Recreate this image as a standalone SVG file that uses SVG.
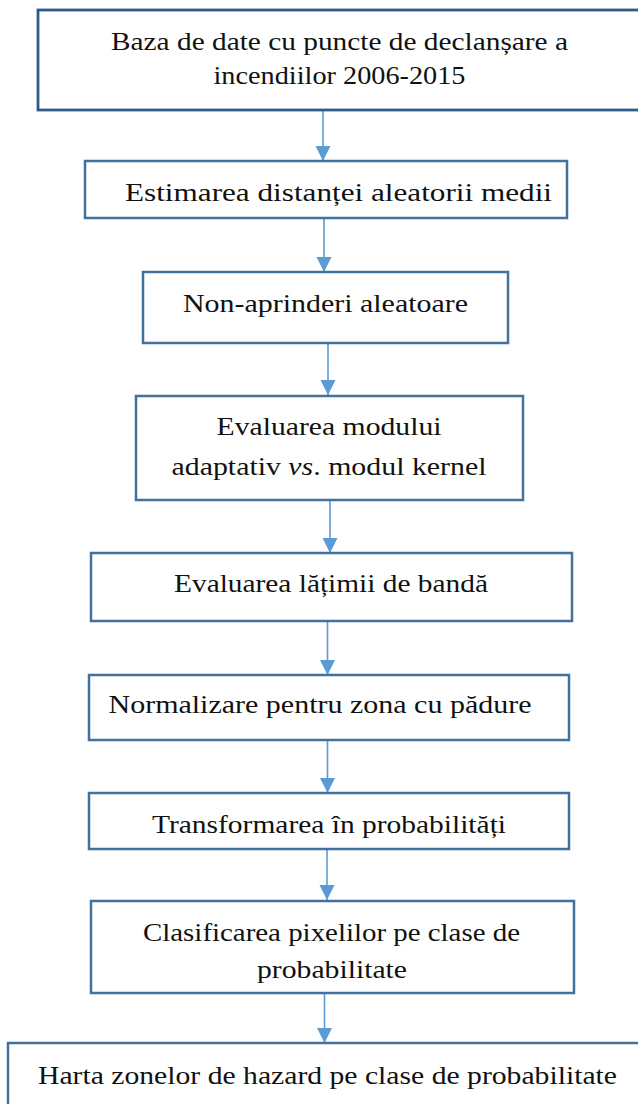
<svg xmlns="http://www.w3.org/2000/svg" width="638" height="1104" viewBox="0 0 638 1104">
<defs>
<marker id="ah" markerUnits="userSpaceOnUse" markerWidth="16" markerHeight="16" viewBox="0 0 16 16" refX="15" refY="7.5" orient="auto">
<path d="M0,0 L15,7.5 L0,15 z" fill="#5B9BD5"/>
</marker>
<style>
.box{fill:#fff;stroke:#41719C;stroke-width:2.5}
.box.dark{stroke:#2F5B8A;stroke-width:2.8}
.lbl{font-family:"Liberation Serif","Times New Roman",serif;font-size:26px;fill:#111;text-anchor:middle}
.con{stroke:#5B9BD5;stroke-width:1.6;fill:none;marker-end:url(#ah)}
</style>
</defs>
<rect width="638" height="1104" fill="#fff"/>
<g id="connectors">
<line class="con" x1="323" y1="111" x2="323" y2="161"/>
<line class="con" x1="324" y1="219" x2="324" y2="272"/>
<line class="con" x1="328" y1="343" x2="328" y2="395"/>
<line class="con" x1="330" y1="500" x2="330" y2="553"/>
<line class="con" x1="327.5" y1="621" x2="327.5" y2="675"/>
<line class="con" x1="327.5" y1="740" x2="327.5" y2="793"/>
<line class="con" x1="327" y1="849" x2="327" y2="900"/>
<line class="con" x1="324.5" y1="993" x2="324.5" y2="1043"/>
</g>
<g id="n1">
<rect class="box dark" x="38" y="10" width="620" height="100"/>
<text class="lbl" x="339.5" y="50" textLength="457" lengthAdjust="spacingAndGlyphs">Baza de date cu puncte de declanșare a</text>
<text class="lbl" x="339.5" y="84" textLength="252" lengthAdjust="spacingAndGlyphs">incendiilor 2006-2015</text>
</g>
<g id="n2">
<rect class="box" x="85" y="161" width="482" height="57"/>
<text class="lbl" x="338.5" y="200.5" textLength="427" lengthAdjust="spacingAndGlyphs">Estimarea distanței aleatorii medii</text>
</g>
<g id="n3">
<rect class="box" x="143" y="272" width="365" height="71"/>
<text class="lbl" x="325.5" y="312" textLength="285" lengthAdjust="spacingAndGlyphs">Non-aprinderi aleatoare</text>
</g>
<g id="n4">
<rect class="box" x="136" y="396" width="387" height="104"/>
<text class="lbl" x="329" y="435" textLength="225" lengthAdjust="spacingAndGlyphs">Evaluarea modului</text>
<text class="lbl" x="329" y="475" textLength="315" lengthAdjust="spacingAndGlyphs">adaptativ <tspan font-style="italic">vs</tspan>. modul kernel</text>
</g>
<g id="n5">
<rect class="box" x="91" y="553" width="481" height="68"/>
<text class="lbl" x="331" y="592" textLength="314" lengthAdjust="spacingAndGlyphs">Evaluarea lățimii de bandă</text>
</g>
<g id="n6">
<rect class="box" x="89" y="675" width="480" height="65"/>
<text class="lbl" x="320" y="713" textLength="423" lengthAdjust="spacingAndGlyphs">Normalizare pentru zona cu pădure</text>
</g>
<g id="n7">
<rect class="box" x="89" y="793" width="480" height="56"/>
<text class="lbl" x="329" y="833" textLength="354" lengthAdjust="spacingAndGlyphs">Transformarea în probabilități</text>
</g>
<g id="n8">
<rect class="box" x="91" y="901" width="483" height="92"/>
<text class="lbl" x="331.5" y="941" textLength="377" lengthAdjust="spacingAndGlyphs">Clasificarea pixelilor pe clase de</text>
<text class="lbl" x="332" y="978" textLength="150" lengthAdjust="spacingAndGlyphs">probabilitate</text>
</g>
<g id="n9">
<rect class="box" x="8" y="1043" width="650" height="80"/>
<text class="lbl" x="327.5" y="1084" textLength="579" lengthAdjust="spacingAndGlyphs">Harta zonelor de hazard pe clase de probabilitate</text>
</g>
</svg>
